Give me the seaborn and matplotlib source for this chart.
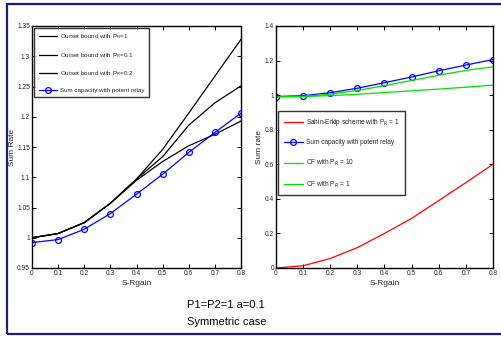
import numpy as np
import pandas as pd
import matplotlib
matplotlib.use("Agg")
import matplotlib.pyplot as plt
import seaborn as sns
from matplotlib.patches import Rectangle

# ==============================
# Data
# ==============================
sr_gain = [0.0, 0.1, 0.2, 0.3, 0.4, 0.5, 0.6, 0.7, 0.8]

outset_pr1 = [1.000, 1.007, 1.025, 1.057, 1.097, 1.146, 1.206, 1.267, 1.328]
outset_pr01 = [1.000, 1.007, 1.025, 1.057, 1.095, 1.126, 1.152, 1.171, 1.193]
outset_pr02 = [1.000, 1.007, 1.025, 1.057, 1.097, 1.134, 1.186, 1.223, 1.251]
sum_capacity = [0.992, 0.997, 1.014, 1.040, 1.072, 1.105, 1.141, 1.174, 1.206]

sahin_erkip = [0.0, 0.013, 0.055, 0.118, 0.200, 0.287, 0.390, 0.494, 0.600]
cf_pr10 = [0.990, 0.993, 1.005, 1.027, 1.055, 1.085, 1.115, 1.143, 1.164]
cf_pr1 = [0.990, 0.992, 0.997, 1.005, 1.015, 1.025, 1.035, 1.046, 1.058]

x_ticks = [0, 0.1, 0.2, 0.3, 0.4, 0.5, 0.6, 0.7, 0.8]
x_ticklabels = ["0", "0.1", "0.2", "0.3", "0.4", "0.5", "0.6", "0.7", "0.8"]
left_yticks = [0.95, 1.0, 1.05, 1.1, 1.15, 1.2, 1.25, 1.3, 1.35]
left_yticklabels = ["0.95", "1", "1.05", "1.1", "1.15", "1.2", "1.25", "1.3", "1.35"]
right_yticks = [0, 0.2, 0.4, 0.6, 0.8, 1.0, 1.2, 1.4]
right_yticklabels = ["0", "0.2", "0.4", "0.6", "0.8", "1", "1.2", "1.4"]

# ==============================
# Style
# ==============================
sns.set_theme(style="ticks")
plt.rcParams["font.family"] = ["Liberation Sans", "DejaVu Sans"]
plt.rcParams["xtick.direction"] = "in"
plt.rcParams["ytick.direction"] = "in"
plt.rcParams["xtick.major.size"] = 3
plt.rcParams["ytick.major.size"] = 3

fig = plt.figure(figsize=(5.02, 3.39), dpi=100)
fig.patch.set_facecolor("white")

# outer blue frame
fig.patches.append(Rectangle((7 / 502, (339 - 334) / 339), 500 / 502, 330 / 339,
                             transform=fig.transFigure, fill=False,
                             edgecolor="#1c1c80", lw=1.6))

ax1 = fig.add_axes([32 / 502, 71 / 339, 209 / 502, 242 / 339])
ax2 = fig.add_axes([276 / 502, 71 / 339, 217 / 502, 242 / 339])

marker_kw = dict(marker="o", markersize=4.2, markerfacecolor="none",
                 markeredgecolor="blue", markeredgewidth=0.9)

# ==============================
# Left panel
# ==============================
sns.lineplot(x=sr_gain, y=outset_pr1, ax=ax1, color="black", lw=0.9,
             label=r"Outset bound with P$_R$=1")
sns.lineplot(x=sr_gain, y=outset_pr01, ax=ax1, color="black", lw=0.9,
             label=r"Outset bound with P$_R$=0.1")
sns.lineplot(x=sr_gain, y=outset_pr02, ax=ax1, color="black", lw=0.9,
             label=r"Outset bound with P$_R$=0.2")
sns.lineplot(x=sr_gain, y=sum_capacity, ax=ax1, color="blue", lw=0.9,
             label="Sum capacity with potent relay", **marker_kw)
ax1.set_xlim(0, 0.8)
ax1.set_ylim(0.95, 1.35)
ax1.set_yticks(left_yticks)
ax1.set_yticklabels(left_yticklabels)
ax1.set_ylabel("Sum Rate", fontsize=6, labelpad=1)
ax1.legend(loc="upper left", fontsize=4.5, frameon=True, fancybox=False,
           edgecolor="black", handlelength=3.0, handletextpad=0.4,
           borderpad=0.75, labelspacing=1.5, borderaxespad=0.3)

# ==============================
# Right panel
# ==============================
sns.lineplot(x=sr_gain, y=sahin_erkip, ax=ax2, color="red", lw=0.9,
             label=r"Sahin-Erkip scheme with P$_R$ = 1")
sns.lineplot(x=sr_gain, y=sum_capacity, ax=ax2, color="blue", lw=0.9,
             label="Sum capacity with potent relay", **marker_kw)
sns.lineplot(x=sr_gain, y=cf_pr10, ax=ax2, color="#00e000", lw=0.9,
             label=r"CF with P$_R$ = 10")
sns.lineplot(x=sr_gain, y=cf_pr1, ax=ax2, color="#00e000", lw=0.9,
             label=r"CF with P$_R$ = 1")
ax2.set_xlim(0, 0.8)
ax2.set_ylim(0, 1.4)
ax2.set_yticks(right_yticks)
ax2.set_yticklabels(right_yticklabels)
ax2.set_ylabel("Sum rate", fontsize=6, labelpad=1)
ax2.legend(loc="upper left", bbox_to_anchor=(0.0, 0.655), fontsize=4.7,
           frameon=True, fancybox=False, edgecolor="black",
           handlelength=3.0, handletextpad=0.4, borderpad=0.85,
           labelspacing=1.75, borderaxespad=0.3)

for ax in (ax1, ax2):
    ax.set_xticks(x_ticks)
    ax.set_xticklabels(x_ticklabels)
    ax.set_xlabel("S-Rgain", fontsize=6, labelpad=2)
    ax.tick_params(axis="both", labelsize=4.8, pad=1.5, width=0.7,
                   top=True, right=True, color="black")
    for s in ax.spines.values():
        s.set_visible(True)
        s.set_linewidth(1.0)
        s.set_color("black")
    ax.legend_.get_frame().set_linewidth(1.0)

fig.text(187 / 502, 1 - 305 / 339, "P1=P2=1 a=0.1", fontsize=8,
         va="center", ha="left", color="black")
fig.text(187 / 502, 1 - 322 / 339, "Symmetric case", fontsize=8,
         va="center", ha="left", color="black")

plt.savefig("out.png", dpi=100)
plt.close()
